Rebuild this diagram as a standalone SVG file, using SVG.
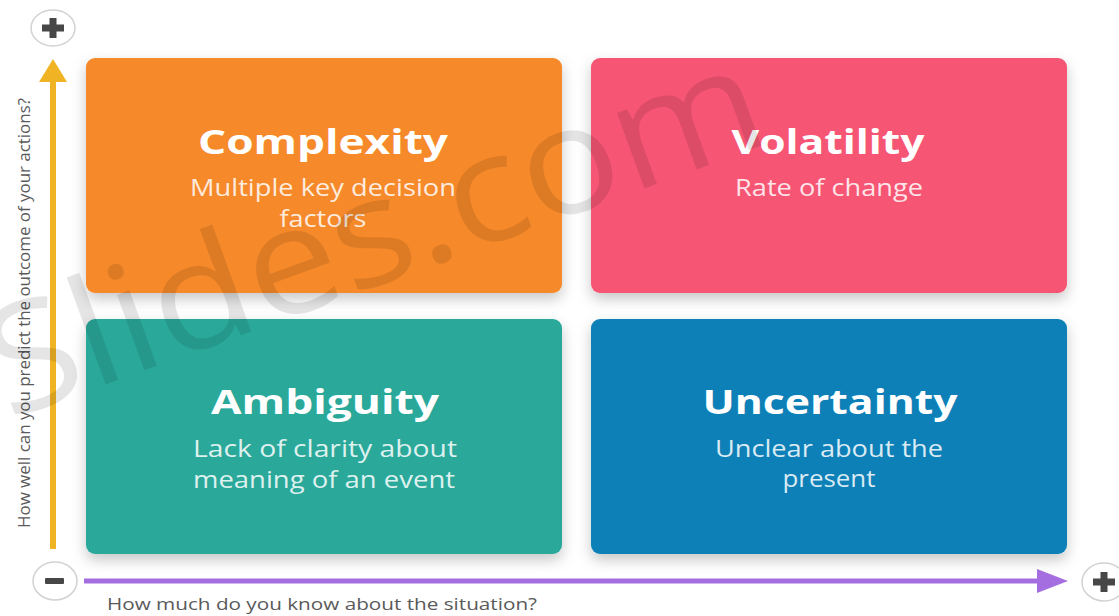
<svg xmlns="http://www.w3.org/2000/svg" width="1119" height="616" viewBox="0 0 1119 616">
  <defs>
    <filter id="shadow" x="-10%" y="-10%" width="120%" height="130%">
      <feDropShadow dx="0" dy="6" stdDeviation="7" flood-color="#000" flood-opacity="0.22"/>
    </filter>
    <style>
      .box { filter: url(#shadow); }
      .title { font-family: "Open Sans", "Liberation Sans", sans-serif; font-weight: 700; font-size: 34px; fill: #ffffff; text-anchor: middle; }
      .sub { font-family: "Open Sans", "Liberation Sans", sans-serif; font-weight: 400; font-size: 23px; fill: #ffffff; fill-opacity: 0.85; text-anchor: middle; }
      .axis-label { font-family: "Open Sans", "Liberation Sans", sans-serif; font-size: 16.5px; fill: #5a5a5a; text-anchor: middle; }
      .badge { fill: #ffffff; stroke: #d2d2d2; stroke-width: 1.5; }
      .sign { fill: #474747; }
      .watermark { font-family: "Open Sans", "Liberation Sans", sans-serif; font-size: 150px; fill: #000000; fill-opacity: 0.1; }
    </style>
  </defs>

  <rect x="0" y="0" width="1119" height="616" fill="#ffffff"/>

  <!-- Axes / connectors -->
  <g id="connectors">
    <line x1="53" y1="549" x2="53" y2="78" stroke="#F0B323" stroke-width="6"/>
    <polygon points="39,82 53,59 67,82" fill="#F0B323"/>
    <line x1="84" y1="581" x2="1040" y2="581" stroke="#A56EE0" stroke-width="5"/>
    <polygon points="1037,569 1068,581 1037,593" fill="#A56EE0"/>
  </g>

  <!-- Badges -->
  <g id="badge-top-plus">
    <ellipse class="badge" cx="53" cy="28" rx="22" ry="18"/>
    <rect class="sign" x="42" y="24.5" width="22" height="7"/>
    <rect class="sign" x="49.5" y="18" width="7" height="20"/>
  </g>
  <g id="badge-minus">
    <ellipse class="badge" cx="55" cy="581" rx="22" ry="19"/>
    <rect class="sign" x="45" y="578" width="19" height="6" rx="1"/>
  </g>
  <g id="badge-right-plus">
    <ellipse class="badge" cx="1104" cy="582" rx="22" ry="19"/>
    <rect class="sign" x="1093" y="578.5" width="22" height="7"/>
    <rect class="sign" x="1100.5" y="572" width="7" height="20"/>
  </g>

  <!-- Quadrants -->
  <g id="node-complexity">
    <rect class="box" x="86" y="58" width="476" height="235" rx="9" fill="#F6892A"/>
    <text class="title" x="323" y="154" textLength="250" lengthAdjust="spacingAndGlyphs">Complexity</text>
    <text class="sub" x="323" y="196" textLength="266" lengthAdjust="spacingAndGlyphs">Multiple key decision</text>
    <text class="sub" x="323" y="227" textLength="87" lengthAdjust="spacingAndGlyphs">factors</text>
  </g>
  <g id="node-volatility">
    <rect class="box" x="591" y="58" width="476" height="235" rx="9" fill="#F65473"/>
    <text class="title" x="828" y="154" textLength="193" lengthAdjust="spacingAndGlyphs">Volatility</text>
    <text class="sub" x="829" y="196" textLength="188" lengthAdjust="spacingAndGlyphs">Rate of change</text>
  </g>
  <g id="node-ambiguity">
    <rect class="box" x="86" y="319" width="476" height="235" rx="9" fill="#29A99B"/>
    <text class="title" x="325" y="414" textLength="228" lengthAdjust="spacingAndGlyphs">Ambiguity</text>
    <text class="sub" x="325" y="457" textLength="264" lengthAdjust="spacingAndGlyphs">Lack of clarity about</text>
    <text class="sub" x="324" y="488" textLength="262" lengthAdjust="spacingAndGlyphs">meaning of an event</text>
  </g>
  <g id="node-uncertainty">
    <rect class="box" x="591" y="319" width="476" height="235" rx="9" fill="#0B80B8"/>
    <text class="title" x="830" y="414" textLength="255" lengthAdjust="spacingAndGlyphs">Uncertainty</text>
    <text class="sub" x="829" y="457" textLength="228" lengthAdjust="spacingAndGlyphs">Unclear about the</text>
    <text class="sub" x="829" y="487" textLength="93" lengthAdjust="spacingAndGlyphs">present</text>
  </g>

  <!-- Axis labels -->
  <g id="label-x">
    <text class="axis-label" x="322" y="610" textLength="430" lengthAdjust="spacingAndGlyphs">How much do you know about the situation?</text>
  </g>
  <g id="label-y">
    <text class="axis-label" transform="translate(30,313) rotate(-90)" x="0" y="0" textLength="430" lengthAdjust="spacingAndGlyphs">How well can you predict the outcome of your actions?</text>
  </g>

  <!-- Watermark -->
  <text class="watermark" transform="translate(8,420) rotate(-20)" x="0" y="0" textLength="815" lengthAdjust="spacingAndGlyphs">Slides.com</text>
</svg>
